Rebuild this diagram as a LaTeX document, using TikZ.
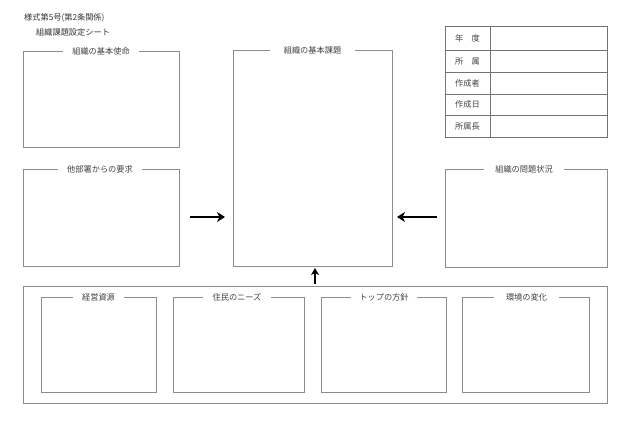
\documentclass[tikz,border=0pt]{standalone}
\usepackage{fontspec}
\setmainfont{Noto Sans CJK JP}
\usetikzlibrary{arrows.meta}
\begin{document}
\begin{tikzpicture}[x=1pt,y=-1pt,
  box/.style={draw=black!45, line width=0.7pt},
  ttl/.style={fill=white, inner xsep=9pt, inner ysep=1pt, text=black!75, font=\fontsize{8.2pt}{10pt}\selectfont},
  hdr/.style={anchor=west, inner sep=0pt, text=black!80, font=\fontsize{8.2pt}{10pt}\selectfont},
  cell/.style={text=black!75, font=\fontsize{8.2pt}{10pt}\selectfont},
  bigarrow/.style={line width=2pt, -{Stealth[length=8pt,width=10pt,inset=2.5pt]}}]
\useasboundingbox (0,0) rectangle (630,440);
% header
\node[hdr] (form) at (24,18) {様式第5号(第2条関係)};
\node[hdr] (sheet) at (36,32) {組織課題設定シート};
% left boxes
\draw[box] (23,51) rectangle (179,147);
\node[ttl] (mission) at (101,51) {組織の基本使命};
\draw[box] (23,169) rectangle (179,266);
\node[ttl] (request) at (100,169) {他部署からの要求};
% center box
\draw[box] (233,50) rectangle (392,266);
\node[ttl, inner xsep=14pt] (issue) at (312.5,50) {組織の基本課題};
% right box
\draw[box] (445,169) rectangle (607,267);
\node[ttl, inner xsep=11pt] (problem) at (524,169) {組織の問題状況};
% table
\draw[black!55, line width=0.7pt] (445,26) rectangle (607,137);
\draw[black!55, line width=0.7pt] (490,26) -- (490,137);
\foreach \yy in {50,72,94,115} \draw[black!55, line width=0.7pt] (445,\yy) -- (607,\yy);
\node[cell] (c1) at (467.5,38) {年\quad 度};
\node[cell] (c2) at (467.5,61) {所\quad 属};
\node[cell] (c3) at (467.5,83) {作成者};
\node[cell] (c4) at (467.5,104.5) {作成日};
\node[cell] (c5) at (467.5,126) {所属長};
% bottom outer box
\draw[box] (23,286) rectangle (607,403);
\draw[box] (41,297) rectangle (156,392);
\node[ttl] (res) at (98.5,297) {経営資源};
\draw[box] (173,297) rectangle (304,392);
\node[ttl, inner xsep=10pt] (needs) at (237,297) {住民のニーズ};
\draw[box] (321,297) rectangle (446,392);
\node[ttl, inner xsep=8.5pt] (top) at (384,297) {トップの方針};
\draw[box] (462,297) rectangle (589,392);
\node[ttl, inner xsep=12pt] (env) at (526.5,297) {環境の変化};
% arrows
\coordinate (a1s) at (190,217);
\coordinate (a1e) at (225,217);
\coordinate (a2s) at (437,217);
\coordinate (a2e) at (397,217);
\coordinate (a3s) at (315,284);
\coordinate (a3e) at (315,268);
\draw[bigarrow] (a1s) -- (a1e);
\draw[bigarrow] (a2s) -- (a2e);
\draw[bigarrow, -{Stealth[length=7pt,width=8pt,inset=2pt]}] (a3s) -- (a3e);
\end{tikzpicture}
\end{document}
